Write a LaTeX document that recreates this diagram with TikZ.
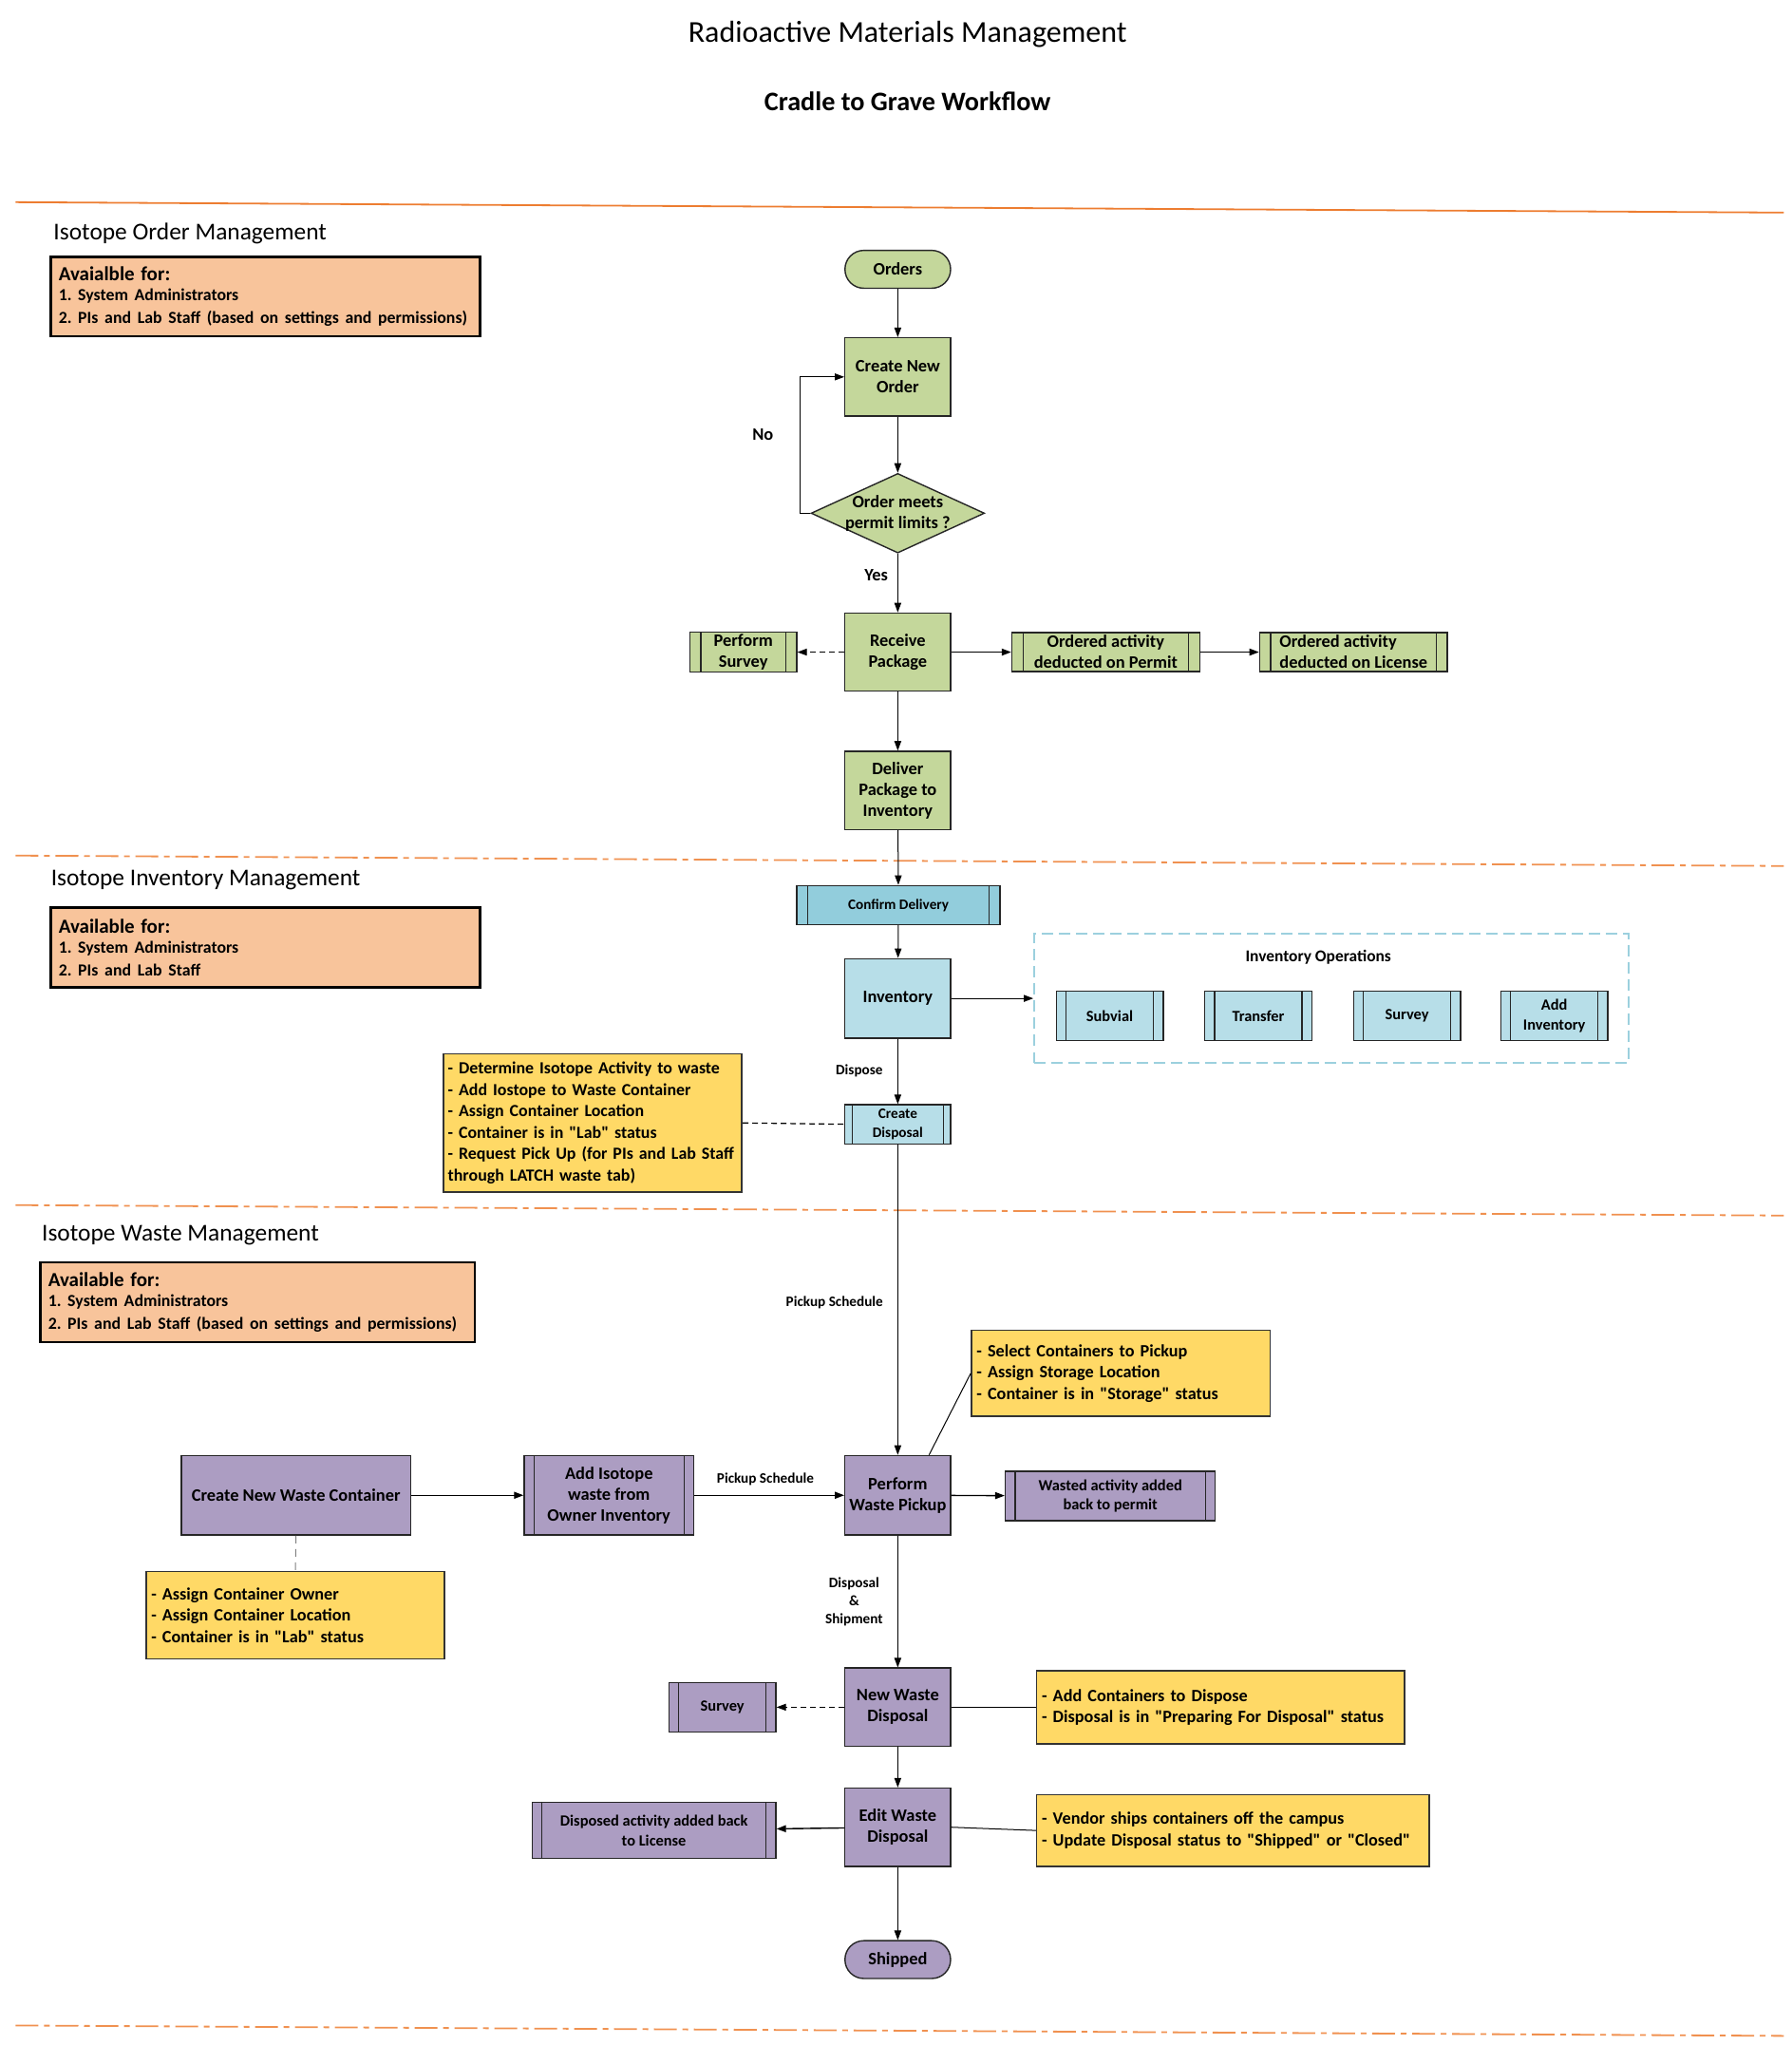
\documentclass[tikz,border=0pt]{standalone}
\usepackage{fontspec}
\setmainfont{Carlito}[Ligatures=TeXOff]
\frenchspacing
\usetikzlibrary{shapes.geometric,arrows.meta,calc}
\definecolor{grn}{HTML}{C4D79B}
\definecolor{teal}{HTML}{92CDDC}
\definecolor{lblue}{HTML}{B7DEE8}
\definecolor{purp}{HTML}{AC9DC2}
\definecolor{peach}{HTML}{F8C49B}
\definecolor{gold}{HTML}{FFD966}
\definecolor{orng}{HTML}{ED7D31}
\definecolor{dashblue}{HTML}{9CD0DE}
\tikzset{
  sz/.style 2 args={minimum width=#1*0.6863pt, minimum height=#2*0.6863pt},
  nf/.style={font=\bfseries\fontsize{9.2}{11}\selectfont},
  sf/.style={font=\bfseries\fontsize{7.6}{10}\selectfont},
  box/.style={draw=black!85, line width=0.7pt, inner sep=1pt, align=center, text=black, nf},
  term/.style={box, rounded corners=9.9pt},
  note/.style={draw=black!80, line width=0.8pt, fill=gold, align=left, inner ysep=1pt, inner xsep=1pt, font=\bfseries\fontsize{9.1}{11.2}\selectfont},
  peachbox/.style={draw=black, line width=1.2pt, fill=peach, align=left, inner ysep=1pt, inner xsep=2.7pt},
  arr/.style={-{Triangle[length=5pt,width=3.6pt]}, line width=0.5pt, black},
  lbl/.style={sf, text=black, align=center},
  head/.style={anchor=west, font=\fontsize{12.7}{15}\selectfont},
  sect/.style={orng, line width=0.9pt},
  sectdash/.style={orng!85, line width=0.9pt, dash pattern=on 12pt off 3pt on 3pt off 3pt},
}
\begin{document}
\begin{tikzpicture}[x=0.6863pt,y=-0.6863pt]
\useasboundingbox (0,0) rectangle (1374,1568);
% titles
\node (t1) at (696,26) {\fontsize{16}{19}\selectfont Radioactive Materials Management};
\node (t2) at (696,78) {\fontsize{14.1}{17}\selectfont\bfseries Cradle to Grave Workflow};
% section lines
\draw[sect] (12,155) -- (1368,163);
\draw[sectdash] (12,656) -- (1368,664);
\draw[sectdash] (12,924) -- (1368,932);
\draw[sectdash] (12,1553) -- (1368,1561);
% headings
\node[head] (h1) at (36,179) {Isotope Order Management};
\node[head] (h2) at (34,675) {Isotope Inventory Management};
\node[head] (h3) at (27,947) {Isotope Waste Management};
% peach boxes
\node[peachbox, sz={329}{61}, text width=317*0.6863pt] (p1) at (203.5,227.5)
 {{\bfseries\fontsize{10.5}{12}\selectfont Avaialble for:}\\[-1pt]
  {\bfseries\fontsize{8.9}{11.7}\selectfont 1. System Administrators\\2. PIs and Lab Staff (based on settings and permissions)}};
\node[peachbox, sz={329}{61}, text width=317*0.6863pt] (p2) at (203.5,726.5)
 {{\bfseries\fontsize{10.5}{12}\selectfont Available for:}\\[-1pt]
  {\bfseries\fontsize{8.9}{11.5}\selectfont 1. System Administrators\\2. PIs and Lab Staff}};
\node[peachbox, sz={333}{61}, text width=321*0.6863pt] (p3) at (197.5,998.5)
 {{\bfseries\fontsize{10.5}{12}\selectfont Available for:}\\[-1pt]
  {\bfseries\fontsize{8.9}{11.5}\selectfont 1. System Administrators\\2. PIs and Lab Staff (based on settings and permissions)}};

% ---- order section
\node[term, fill=grn, sz={81}{29}] (orders) at (688.5,206.5) {Orders};
\node[box, fill=grn, sz={81}{60}] (create) at (688.5,289) {Create New\\Order};
\node[diamond, draw=black!85, line width=0.7pt, fill=grn, sz={133}{61}, inner sep=0pt] (dia) at (688.5,393.5) {};
\node[nf, align=center] (diat) at (688.5,393.5) {Order meets\\permit limits ?};
\node[box, fill=grn, sz={81}{60}] (receive) at (688.5,500) {Receive\\Package};
\node[box, fill=grn, sz={82}{30}] (psurvey) at (570,500) {Perform\\Survey};
\node[box, fill=grn, sz={144}{30}] (opermit) at (848,500) {Ordered activity\\deducted on Permit};
\node[box, fill=grn, sz={144}{30}, align=left] (olicense) at (1038,500) {Ordered activity\\deducted on License};
\node[box, fill=grn, sz={81}{60}] (deliver) at (688.5,606) {Deliver\\Package to\\Inventory};

\draw[arr] (orders) -- (create);
\draw[arr] (create) -- (dia);
\draw[arr] (dia.west) -- ++(-8,0) |- (create.west);
\node[nf] (no) at (585,333) {No};
\draw[arr] (dia) -- (receive);
\node[nf] (yes) at (672,441) {Yes};
\draw[arr, dashed, dash pattern=on 3pt off 2pt] (receive) -- (psurvey);
\draw[arr, line width=0.7pt] (receive) -- (opermit);
\draw[arr, line width=0.7pt] (opermit) -- (olicense);
\draw[arr] (receive) -- (deliver);

% ---- inventory section
\node[box, fill=teal, sz={156}{30}, sf] (confirm) at (689,694) {Confirm Delivery};
\node[box, fill=lblue, sz={81}{61}] (inv) at (688.5,765.5) {Inventory};
\node[draw=dashblue, line width=0.8pt, dash pattern=on 6pt off 3pt, sz={456}{99}] (ops) at (1021,765.5) {};
\node[nf, font=\bfseries\fontsize{8.7}{11}\selectfont] (opst) at (1011,734) {Inventory Operations};
\node[box, fill=lblue, sz={82}{38}, font=\bfseries\fontsize{8.2}{10.3}\selectfont] (subvial) at (851,779) {Subvial};
\node[box, fill=lblue, sz={82}{38}, font=\bfseries\fontsize{8.2}{10.3}\selectfont] (transfer) at (965,779) {Transfer};
\node[box, fill=lblue, sz={82}{38}, font=\bfseries\fontsize{8.2}{10.3}\selectfont] (survey1) at (1079,779) {Survey};
\node[box, fill=lblue, sz={82}{38}, font=\bfseries\fontsize{8.2}{10.3}\selectfont] (addinv) at (1192,779) {Add\\Inventory};
\node[box, fill=lblue, sz={81}{30}, sf] (cdisp) at (688.5,862) {Create\\Disposal};
\node[note, sz={229}{106}, text width=222*0.6863pt, font=\bfseries\fontsize{8.95}{11.2}\selectfont] (note1) at (454.5,861)
 {- Determine Isotope Activity to waste\\- Add Iostope to Waste Container\\- Assign Container Location\\- Container is in "Lab" status\\- Request Pick Up (for PIs and Lab Staff\\through LATCH waste tab)};

\draw[arr] (deliver) -- (confirm);
\draw[arr] (confirm) -- (inv);
\draw[arr] (inv) -- (ops.west |- inv.east);
\draw[arr] (inv) -- (cdisp);
\node[lbl] (ldispose) at (659,821) {Dispose};
\draw[dashed, dash pattern=on 3pt off 2pt, line width=0.6pt] (note1.east) -- (cdisp.west);

% ---- waste section
\node[box, fill=purp, sz={81}{61}] (pickup) at (688.5,1146.5) {Perform\\Waste Pickup};
\node[note, sz={229}{66}, text width=221*0.6863pt] (note2) at (859.5,1053)
 {- Select Containers to Pickup\\- Assign Storage Location\\- Container is in "Storage" status};
\node[box, fill=purp, sz={176}{61}] (cwc) at (227,1146.5) {Create New Waste Container};
\node[box, fill=purp, sz={130}{61}] (addiso) at (467,1146.5) {Add Isotope\\waste from\\Owner Inventory};
\node[box, fill=purp, sz={161}{38}, font=\bfseries\fontsize{8.2}{10.3}\selectfont] (wasted) at (851.5,1147) {Wasted activity added\\back to permit};
\node[note, sz={229}{67}, text width=221*0.6863pt] (note3) at (226.5,1238.5)
 {- Assign Container Owner\\- Assign Container Location\\- Container is in "Lab" status};
\node[box, fill=purp, sz={81}{60}] (nwd) at (688.5,1309) {New Waste\\Disposal};
\node[box, fill=purp, sz={82}{38}, font=\bfseries\fontsize{8.2}{10.3}\selectfont] (survey2) at (554,1309) {Survey};
\node[note, sz={282}{56}, text width=274*0.6863pt] (note4) at (936,1309)
 {- Add Containers to Dispose\\- Disposal is in "Preparing For Disposal" status};
\node[box, fill=purp, sz={81}{60}] (ewd) at (688.5,1401) {Edit Waste\\Disposal};
\node[box, fill=purp, sz={187}{43}, font=\bfseries\fontsize{8.2}{10.3}\selectfont] (disposed) at (501.5,1403.5) {Disposed activity added back\\to License};
\node[note, sz={301}{55}, text width=293*0.6863pt] (note5) at (945.5,1403.5)
 {- Vendor ships containers off the campus\\- Update Disposal status to "Shipped" or "Closed"};
\node[term, fill=purp, sz={81}{29}] (shipped) at (688.5,1502.5) {Shipped};

\draw[arr] (cdisp) -- (pickup);
\node[lbl] (lpick1) at (640,999) {Pickup Schedule};
\draw[line width=0.5pt] ($(pickup.north)+(24,0)$) -- (note2.west);
\draw[arr, line width=0.7pt] (cwc) -- (addiso);
\draw[arr, line width=0.7pt] (addiso) -- (pickup);
\node[lbl] (lpick2) at (587,1134) {Pickup Schedule};
\draw[arr, line width=0.7pt] (pickup) -- (wasted);
\draw[dashed, dash pattern=on 4pt off 3pt, line width=0.5pt, black!50] (cwc.south) -- (note3.north);
\draw[arr] (pickup) -- (nwd);
\node[lbl, font=\bfseries\fontsize{7.6}{9.6}\selectfont] (lds) at (655,1228) {Disposal\\\&\\Shipment};
\draw[arr, dashed, dash pattern=on 3pt off 2pt] (nwd) -- (survey2);
\draw[line width=0.5pt] (nwd.east) -- (note4.west);
\draw[arr] (nwd) -- (ewd);
\draw[arr, line width=0.7pt] (ewd) -- (disposed);
\draw[line width=0.5pt] (ewd.east) -- (note5.west);
\draw[arr] (ewd) -- (shipped);

% predefined-process inner lines
\foreach \n/\d in {psurvey/9, opermit/9, olicense/9, confirm/9, subvial/8, transfer/8, survey1/8, addinv/8, cdisp/6, addiso/8, wasted/8, survey2/8, disposed/8}
  \draw[line width=0.6pt, black!85] ([xshift=\d*0.6863pt]\n.north west) -- ([xshift=\d*0.6863pt]\n.south west)
    ([xshift=-\d*0.6863pt]\n.north east) -- ([xshift=-\d*0.6863pt]\n.south east);
\end{tikzpicture}
\end{document}
